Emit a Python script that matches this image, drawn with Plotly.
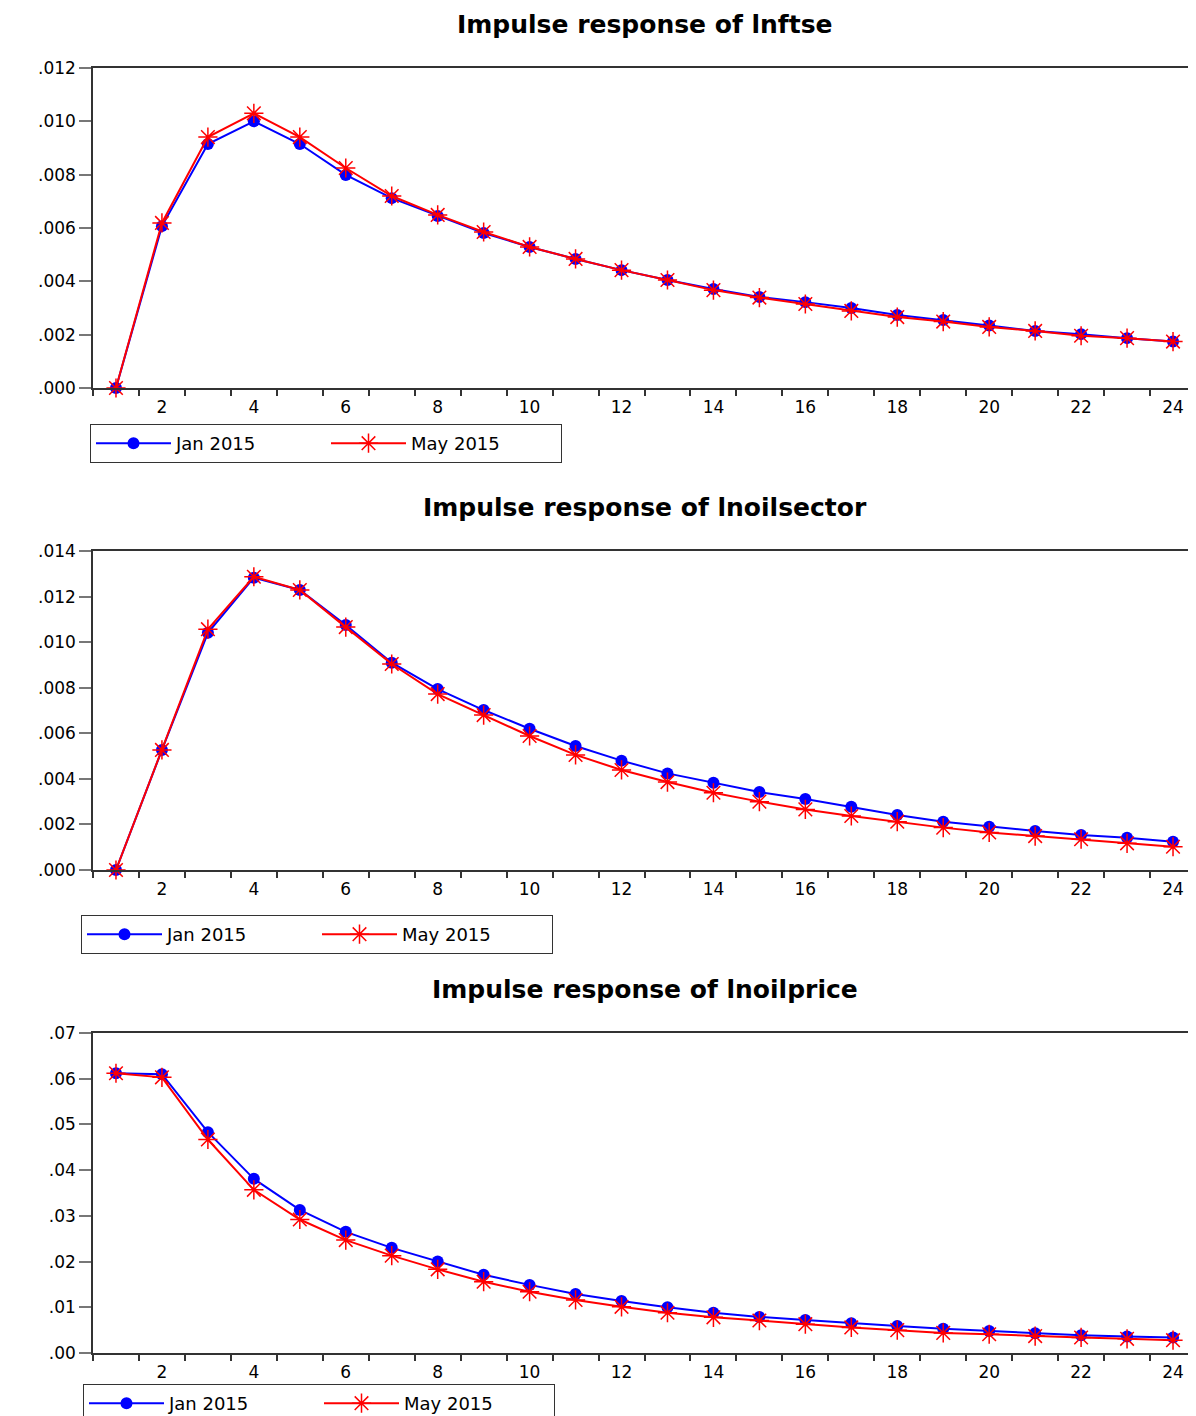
import plotly.graph_objects as go

periods = list(range(1, 25))

# Impulse response of lnftse
ftse_jan = [0.0, 0.00607, 0.00915, 0.01000, 0.00915, 0.00799, 0.00712, 0.00645, 0.00581, 0.00529,
            0.00484, 0.00442, 0.00405, 0.00371, 0.00341, 0.00322, 0.00300, 0.00274, 0.00255, 0.00234,
            0.00214, 0.00202, 0.00187, 0.00174]
ftse_may = [0.0, 0.00619, 0.00941, 0.01030, 0.00941, 0.00825, 0.00720, 0.00649, 0.00585, 0.00529,
            0.00484, 0.00442, 0.00405, 0.00367, 0.00339, 0.00315, 0.00289, 0.00266, 0.00249, 0.00229,
            0.00214, 0.00196, 0.00187, 0.00174]

# Impulse response of lnoilsector
oilsector_jan = [0.0, 0.00527, 0.01041, 0.01283, 0.01229, 0.01075, 0.00910, 0.00794, 0.00702, 0.00620,
                 0.00544, 0.00480, 0.00424, 0.00383, 0.00342, 0.00312, 0.00278, 0.00241, 0.00212, 0.00190,
                 0.00171, 0.00154, 0.00142, 0.00124]
oilsector_may = [0.0, 0.00527, 0.01057, 0.01287, 0.01229, 0.01066, 0.00904, 0.00772, 0.00680, 0.00588,
                 0.00505, 0.00439, 0.00386, 0.00339, 0.00300, 0.00266, 0.00237, 0.00212, 0.00186, 0.00165,
                 0.00149, 0.00135, 0.00117, 0.00102]

# Impulse response of lnoilprice
oilprice_jan = [0.0612, 0.0610, 0.0483, 0.0381, 0.0313, 0.0265, 0.0230, 0.0200, 0.0171, 0.0149,
                0.0129, 0.0114, 0.0100, 0.0088, 0.0079, 0.0072, 0.0065, 0.0059, 0.0053, 0.0048,
                0.0043, 0.0039, 0.0036, 0.0034]
oilprice_may = [0.0612, 0.0603, 0.0467, 0.0357, 0.0292, 0.0247, 0.0213, 0.0183, 0.0156, 0.0134,
                0.0116, 0.0101, 0.0088, 0.0078, 0.0071, 0.0063, 0.0056, 0.0050, 0.0044, 0.0041,
                0.0037, 0.0034, 0.0031, 0.0028]

series_names = ["Jan 2015", "May 2015"]
titles = ["Impulse response of lnftse",
          "Impulse response of lnoilsector",
          "Impulse response of lnoilprice"]

x_tickvals = [2, 4, 6, 8, 10, 12, 14, 16, 18, 20, 22, 24]
x_ticktext = ["2", "4", "6", "8", "10", "12", "14", "16", "18", "20", "22", "24"]
x_minor_ticks = [p + 0.5 for p in range(0, 25)]

y1_tickvals = [0.0, 0.002, 0.004, 0.006, 0.008, 0.010, 0.012]
y1_ticktext = [".000", ".002", ".004", ".006", ".008", ".010", ".012"]
y2_tickvals = [0.0, 0.002, 0.004, 0.006, 0.008, 0.010, 0.012, 0.014]
y2_ticktext = [".000", ".002", ".004", ".006", ".008", ".010", ".012", ".014"]
y3_tickvals = [0.0, 0.01, 0.02, 0.03, 0.04, 0.05, 0.06, 0.07]
y3_ticktext = [".00", ".01", ".02", ".03", ".04", ".05", ".06", ".07"]

# page body has an 8px margin, so the figure is laid out in page coords minus 8
OFF = 8
W, H = 1196 - OFF, 1416 - OFF
panels = [
    dict(jan=ftse_jan, may=ftse_may, title=titles[0], tv=y1_tickvals, tt=y1_ticktext,
         top=68, bottom=388, title_top=8, leg_x=90, leg_y=424),
    dict(jan=oilsector_jan, may=oilsector_may, title=titles[1], tv=y2_tickvals, tt=y2_ticktext,
         top=551, bottom=870, title_top=491, leg_x=81, leg_y=915),
    dict(jan=oilprice_jan, may=oilprice_may, title=titles[2], tv=y3_tickvals, tt=y3_ticktext,
         top=1033, bottom=1353, title_top=973, leg_x=83, leg_y=1384),
]

FONT = "DejaVu Sans"
BLUE = "#0000FF"
RED = "#FF0000"
left_px = 93 - OFF

fig = go.Figure()
layout = dict(
    width=W, height=H,
    margin=dict(l=0, r=0, t=0, b=0, autoexpand=False),
    paper_bgcolor="white", plot_bgcolor="white",
    font=dict(family=FONT, color="black"),
    showlegend=True,
    annotations=[],
)

for i, p in enumerate(panels, start=1):
    sfx = "" if i == 1 else str(i)
    xa, ya = "x" + sfx, "y" + sfx
    leg = "legend" + sfx
    fig.add_trace(go.Scatter(
        x=periods, y=p["jan"], name=series_names[0], mode="lines+markers",
        line=dict(color=BLUE, width=2),
        marker=dict(symbol="circle", size=12, color=BLUE),
        xaxis=xa, yaxis=ya, legend=leg, cliponaxis=False))
    fig.add_trace(go.Scatter(
        x=periods, y=p["may"], name=series_names[1], mode="lines+markers",
        line=dict(color=RED, width=2),
        marker=dict(symbol="asterisk-open", size=16, color=RED, line=dict(color=RED, width=1.5)),
        xaxis=xa, yaxis=ya, legend=leg, cliponaxis=False))

    y0 = 1 - (p["bottom"] - OFF) / H
    y1 = 1 - (p["top"] - OFF) / H
    layout["xaxis" + sfx] = dict(
        domain=[left_px / W, 1.0], range=[0.5, 24.5], anchor=ya,
        tickmode="array", tickvals=x_tickvals, ticktext=x_ticktext,
        ticks="outside", ticklen=3, tickcolor="rgba(0,0,0,0)",
        minor=dict(tickmode="array", tickvals=x_minor_ticks, ticks="outside",
                   ticklen=6, tickwidth=1.5, tickcolor="#333333", showgrid=False),
        showline=True, linecolor="#333333", linewidth=1.5, mirror=True,
        showgrid=False, zeroline=False,
        tickfont=dict(family=FONT, size=17, color="black"),
    )
    layout["yaxis" + sfx] = dict(
        domain=[y0, y1], range=[0, p["tv"][-1]], anchor=xa,
        tickmode="array", tickvals=p["tv"], ticktext=p["tt"],
        ticks="outside", ticklen=12, tickwidth=1.5, tickcolor="#777777",
        showline=True, linecolor="#333333", linewidth=1.5,
        showgrid=False, zeroline=False,
        tickfont=dict(family=FONT, size=17, color="black"),
    )
    layout[leg] = dict(
        x=(p["leg_x"] - OFF) / W, y=1 - (p["leg_y"] - OFF) / H, xanchor="left", yanchor="top",
        orientation="h", bordercolor="#333333", borderwidth=1, bgcolor="white",
        font=dict(family=FONT, size=18, color="black"),
        entrywidth=145, itemwidth=75,
    )
    layout["annotations"].append(dict(
        text="<b>" + p["title"] + "</b>", xref="paper", yref="paper",
        x=(left_px / W + 1.0) / 2, y=1 - (p["title_top"] - OFF) / H,
        xanchor="center", yanchor="top", showarrow=False,
        font=dict(family=FONT, size=25, color="black"),
    ))

fig.update_layout(**layout)
fig.write_html("out.html")
